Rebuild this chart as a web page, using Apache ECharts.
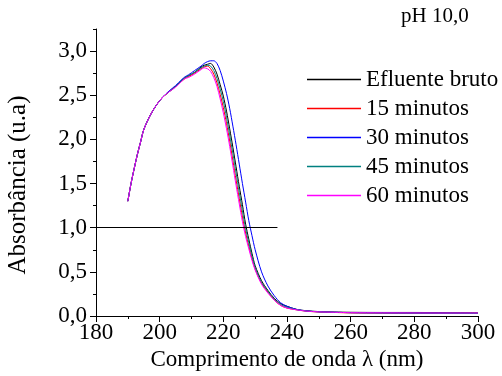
<!DOCTYPE html>
<html>
<head>
<meta charset="utf-8">
<script src="https://cdn.jsdelivr.net/npm/echarts@6/dist/echarts.min.js"></script>
<style>html,body{margin:0;padding:0;background:#fff}#c{width:502px;height:376px}</style>
</head>
<body>
<div id="c"></div>
<script>
const wavelength = [190,191,192,193,194,195,197,199,201,203,205,207,208,209,211,213,214,215,216,217,218,219,220,221,222,223,224,225,226,227,228,229,230,232,234,236,238,240,243,246,250,255,260,270,280,290,300];

const efluenteBruto = [1.30,1.50,1.67,1.83,1.97,2.11,2.27,2.39,2.48,2.54,2.60,2.67,2.70,2.72,2.76,2.82,2.84,2.85,2.86,2.82,2.74,2.62,2.49,2.32,2.12,1.91,1.69,1.47,1.26,1.04,0.87,0.71,0.57,0.40,0.29,0.20,0.14,0.11,0.075,0.06,0.05,0.045,0.042,0.04,0.04,0.038,0.036];
const min15 = [1.30,1.50,1.67,1.83,1.97,2.11,2.27,2.39,2.48,2.54,2.60,2.66,2.69,2.71,2.75,2.80,2.82,2.83,2.80,2.74,2.64,2.51,2.36,2.18,1.98,1.76,1.54,1.33,1.12,0.94,0.79,0.65,0.53,0.37,0.27,0.18,0.12,0.09,0.07,0.055,0.045,0.04,0.035,0.032,0.03,0.03,0.03];
const min30 = [1.30,1.50,1.67,1.83,1.97,2.11,2.27,2.39,2.48,2.55,2.61,2.68,2.71,2.73,2.78,2.83,2.86,2.88,2.89,2.89,2.86,2.78,2.66,2.52,2.35,2.15,1.94,1.72,1.50,1.29,1.08,0.91,0.75,0.50,0.34,0.23,0.15,0.11,0.075,0.058,0.048,0.042,0.038,0.035,0.033,0.032,0.03];
const min45 = [1.30,1.50,1.67,1.83,1.97,2.11,2.27,2.39,2.48,2.54,2.60,2.67,2.70,2.72,2.76,2.81,2.83,2.84,2.83,2.78,2.69,2.57,2.43,2.25,2.05,1.84,1.62,1.40,1.19,0.99,0.83,0.68,0.55,0.38,0.28,0.19,0.13,0.10,0.072,0.057,0.047,0.042,0.038,0.035,0.033,0.032,0.03];
const min60 = [1.30,1.50,1.67,1.83,1.97,2.11,2.27,2.39,2.48,2.54,2.59,2.66,2.69,2.70,2.74,2.79,2.81,2.80,2.77,2.70,2.60,2.46,2.30,2.12,1.92,1.70,1.48,1.27,1.07,0.90,0.76,0.63,0.52,0.36,0.26,0.18,0.12,0.09,0.07,0.056,0.047,0.042,0.038,0.036,0.035,0.034,0.034];

const seriesNames = ['Efluente bruto','15 minutos','30 minutos','45 minutos','60 minutos'];
const seriesColors = ['#000000','#ff0000','#0000ff','#008080','#ff00ff'];
const xTicks = [180,200,220,240,260,280,300];
const yTicks = [0,0.5,1.0,1.5,2.0,2.5,3.0];
const yMinorTicks = [0.25,0.75,1.25,1.75,2.25,2.75,3.25];
const refLine = {value: 1.0, from: 180, to: 237};

const font = "'Liberation Serif','Times New Roman',serif";
const allData = [efluenteBruto,min15,min30,min45,min60];

const series = allData.map((vals, i) => ({
  name: seriesNames[i],
  type: 'line',
  data: wavelength.map((w, j) => [w, vals[j]]),
  showSymbol: false,
  symbol: 'none',
  smooth: 0.3,
  lineStyle: {width: 1, color: seriesColors[i]},
  itemStyle: {color: seriesColors[i]},
  animation: false
}));
series[0].markLine = {
  silent: true, symbol: 'none', label: {show: false},
  lineStyle: {color: '#000', width: 1, type: 'solid'},
  data: [[{coord: [refLine.from, refLine.value]}, {coord: [refLine.to, refLine.value]}]],
  animation: false
};

const fmt = v => v.toFixed(1).replace('.', ',');

const chart = echarts.init(document.getElementById('c'), null, {renderer: 'canvas'});
chart.setOption({
  animation: false,
  backgroundColor: '#fff',
  grid: {left: 96, right: 24, top: 29, bottom: 60, containLabel: false, outerBoundsMode: 'none'},
  title: {text: 'pH 10,0', left: 401, top: 6, padding: 0, textStyle: {fontFamily: font, fontSize: 21, fontWeight: 'normal', color: '#000'}},
  legend: {
    orient: 'vertical', left: 307, top: 68, padding: 0, itemWidth: 54, itemHeight: 1.5, itemGap: 6,
    icon: 'rect',
    data: seriesNames,
    itemStyle: {borderWidth: 0},
    textStyle: {fontFamily: font, fontSize: 23, color: '#000', lineHeight: 23}
  },
  graphic: [{
    type: 'text', x: 18, y: 185, rotation: Math.PI / 2,
    style: {text: 'Absorbância (u.a)', font: "25px 'Liberation Serif','Times New Roman',serif", fill: '#000', align: 'center', verticalAlign: 'middle'}
  }],
  xAxis: {
    type: 'value', min: 180, max: 300, interval: 20,
    name: 'Comprimento de onda λ (nm)', nameLocation: 'middle', nameGap: 31,
    nameTextStyle: {fontFamily: font, fontSize: 23, color: '#000'},
    axisLine: {show: true, lineStyle: {color: '#000', width: 1}},
    axisTick: {show: true, inside: false, length: 6, lineStyle: {color: '#000'}},
    minorTick: {show: true, splitNumber: 2, length: 3, lineStyle: {color: '#000'}},
    axisLabel: {fontFamily: font, fontSize: 23, color: '#000', margin: 5, customValues: xTicks},
    splitLine: {show: false}
  },
  yAxis: [{
    type: 'value', min: 0, max: 3.25,
    axisLine: {show: true, lineStyle: {color: '#000', width: 1}},
    axisTick: {show: true, length: 6, lineStyle: {color: '#000'}, customValues: yTicks},
    axisLabel: {fontFamily: font, fontSize: 23, color: '#000', margin: 9, customValues: yTicks, formatter: fmt},
    splitLine: {show: false}
  }, {
    type: 'value', min: 0, max: 3.25, position: 'left',
    axisLine: {show: false},
    axisTick: {show: true, length: 3, lineStyle: {color: '#000'}, customValues: yMinorTicks},
    axisLabel: {show: false},
    splitLine: {show: false}
  }],
  series: series
});
</script>
</body>
</html>
